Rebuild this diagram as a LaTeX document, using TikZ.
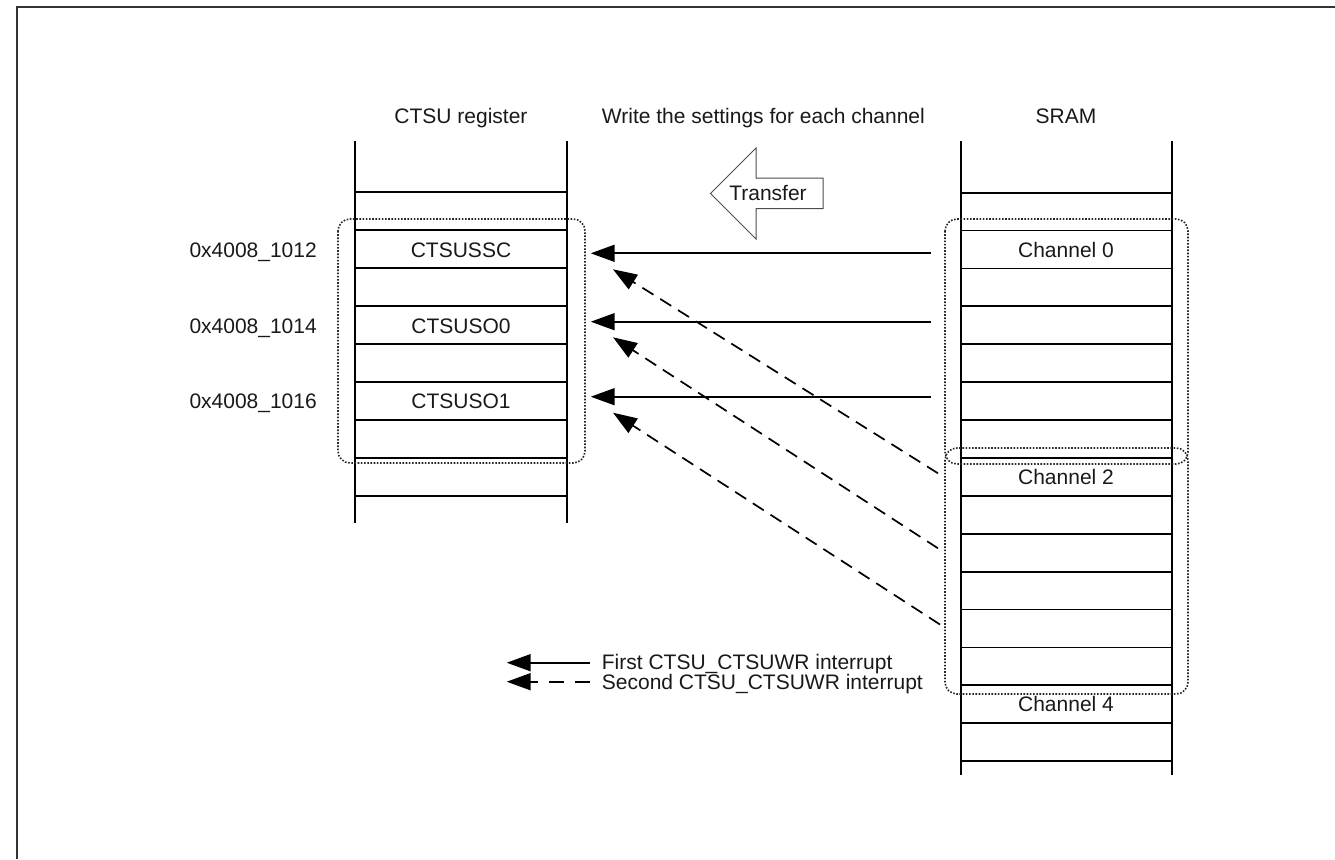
\documentclass[tikz,border=0pt]{standalone}
\usepackage{fontspec}
\setmainfont{Liberation Sans}
\usetikzlibrary{arrows.meta}
\begin{document}
\begin{tikzpicture}[x=1pt,y=-1pt,
  every node/.style={font=\fontsize{21}{25}\selectfont, text=black!90, inner sep=0pt},
  txt/.style={text height=15pt, text depth=0pt},
  colline/.style={line width=1.8pt, black},
  grp/.style={line width=1.6pt, black!85, dash pattern=on 1.6pt off 1.6pt, rounded corners=12pt},
  solidarr/.style={line width=1.7pt, -{Triangle[length=24pt,width=17pt]}},
  dasharr/.style={line width=1.7pt, dash pattern=on 13pt off 8pt, -{Triangle[length=24pt,width=17pt]}},
  framel/.style={line width=2pt, black!80},
  blockarr/.style={line width=1pt, black!70}]
\useasboundingbox (0,0) rectangle (1335,859);
% outer frame
\draw[framel] (17,859) -- (17,7) -- (1335,7);

% titles
\node[txt] (tReg) at (461,116) {CTSU register};
\node[txt] (tSram) at (1066,116) {SRAM};
\node[txt,anchor=west] (tWrite) at (601.7,116) {Write the settings for each channel};

% left column (CTSU register)
\draw[colline] (355,141) -- (355,523);
\draw[colline] (567,141) -- (567,523);
\foreach \k in {0,...,8} \draw[colline] (355,192.3+38*\k) -- (567,192.3+38*\k);
\node[txt] (rSSC) at (461,249.5) {CTSUSSC};
\node[txt] (rSO0) at (461,325.5) {CTSUSO0};
\node[txt] (rSO1) at (461,401) {CTSUSO1};
\node[txt,anchor=east] (a1) at (317,249.5) {0x4008\_1012};
\node[txt,anchor=east] (a2) at (317,325.5) {0x4008\_1014};
\node[txt,anchor=east] (a3) at (317,401) {0x4008\_1016};

% right column (SRAM)
\draw[colline] (961,141) -- (961,775);
\draw[colline] (1172,141) -- (1172,775);
\foreach \k in {0,...,15} \draw[colline] (961,192.6+37.9*\k) -- (1172,192.6+37.9*\k);
\node[txt] (ch0) at (1066,249.5) {Channel 0};
\node[txt] (ch2) at (1066,476.5) {Channel 2};
\node[txt] (ch4) at (1066,704) {Channel 4};

% groups (dotted)
\draw[grp] (338,219) rectangle (585,463);
\draw[grp] (945,219) rectangle (1188,464);
\draw[grp] (945,448) rectangle (1188,694);

% transfer block arrow
\draw[blockarr, fill=white] (710.5,193.5) -- (756,148) -- (756,178) -- (823,178) -- (823,208.5) -- (756,208.5) -- (756,239) -- cycle;
\node[txt] (tTransfer) at (768,193.3) {Transfer};

% arrow endpoints
\coordinate (s1) at (931,253.3);  \coordinate (e1) at (590.7,253.3);
\coordinate (s2) at (931,321.7);  \coordinate (e2) at (590.7,321.7);
\coordinate (s3) at (931,396.7);  \coordinate (e3) at (590.7,396.7);
\coordinate (d1) at (938,473.3);  \coordinate (f1) at (613,269.3);
\coordinate (d2) at (938,548.3);  \coordinate (f2) at (613,337.3);
\coordinate (d3) at (940,624.5);  \coordinate (f3) at (613,412.7);
\draw[solidarr] (s1) -- (e1);
\draw[solidarr] (s2) -- (e2);
\draw[solidarr] (s3) -- (e3);
\draw[dasharr] (d1) -- (f1);
\draw[dasharr] (d2) -- (f2);
\draw[dasharr] (d3) -- (f3);

% legend
\coordinate (l1s) at (590,662.7); \coordinate (l1e) at (506.7,662.7);
\coordinate (l2s) at (590,681.7); \coordinate (l2e) at (506.7,681.7);
\draw[solidarr] (l1s) -- (l1e);
\draw[line width=1.7pt, dash pattern=on 15pt off 11pt, -{Triangle[length=24pt,width=17pt]}] (l2s) -- (l2e);
\node[txt,anchor=west] (leg1) at (601.7,662) {First CTSU\_CTSUWR interrupt};
\node[txt,anchor=west] (leg2) at (601.7,682) {Second CTSU\_CTSUWR interrupt};
\end{tikzpicture}
\end{document}
